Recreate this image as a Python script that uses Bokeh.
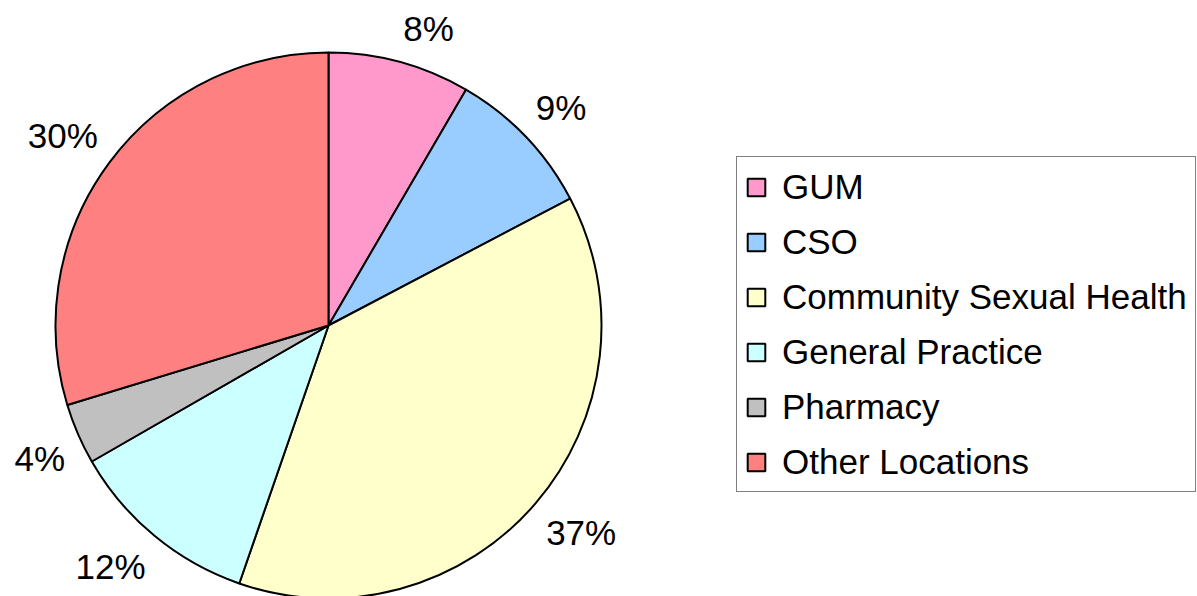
import numpy as np
from bokeh.plotting import figure
from bokeh.models import ColumnDataSource, Legend, LegendItem, Range1d
from bokeh.core.properties import value
from bokeh.embed import file_html
from bokeh.resources import INLINE

# ---- data ----
categories = ["GUM", "CSO", "Community Sexual Health", "General Practice", "Pharmacy", "Other Locations"]
# slice shares
shares = [8.4, 8.9, 38.0, 11.4, 3.6, 29.7]
# data labels as printed on the chart
labels = ["8%", "9%", "37%", "12%", "4%", "30%"]
colors = ["#FF99CC", "#99CCFF", "#FFFFCC", "#CCFFFF", "#C0C0C0", "#FF8080"]

# ---- layout (figure units == pixels) ----
W, H = 1197, 596
cx, cy = 328, 271
radius = 273
label_d = 287
FONT = "Liberation Sans"

frac = np.array(shares, dtype=float) / sum(shares)
cum = np.concatenate([[0.0], np.cumsum(frac)])
start = np.pi / 2 - 2 * np.pi * cum[:-1]
end = np.pi / 2 - 2 * np.pi * cum[1:]
mid = np.pi / 2 - 2 * np.pi * (cum[:-1] + frac / 2)

src = ColumnDataSource(dict(cat=categories, share=shares, color=colors,
                            start=start, end=end))

p = figure(width=W, height=H, output_backend="svg", toolbar_location=None,
           x_range=Range1d(0, W), y_range=Range1d(0, H),
           x_axis_location=None, y_axis_location=None, min_border=0)
p.grid.visible = False
p.outline_line_color = None
p.background_fill_color = "white"
p.border_fill_color = "white"

r = p.wedge(x=cx, y=cy, radius=radius, start_angle="start", end_angle="end",
            direction="clock", fill_color="color", line_color="black", line_width=2,
            source=src)

# outside-end data labels: box corner nearest to the pie touches the label circle
lx = cx + label_d * np.cos(mid)
ly = cy + label_d * np.sin(mid)
for x, y, t, a in zip(lx, ly, labels, mid):
    p.text(x=[x], y=[y], text=[t],
           text_align="left" if np.cos(a) >= 0 else "right",
           text_baseline="bottom" if np.sin(a) > 0 else "top",
           text_font=value(FONT), text_font_size="35px", text_color="black")

items = [LegendItem(label=c, renderers=[r], index=i) for i, c in enumerate(categories)]
legend = Legend(items=items, location=(736, 104), orientation="vertical",
                label_text_font=FONT, label_text_font_size="35px", label_text_color="black",
                glyph_width=22, glyph_height=22, label_standoff=15, label_height=43,
                spacing=12, padding=8, margin=0,
                border_line_color="black", border_line_width=1,
                background_fill_color="white", background_fill_alpha=1.0)
p.add_layout(legend)

open("out.html", "w").write(file_html(p, INLINE))
